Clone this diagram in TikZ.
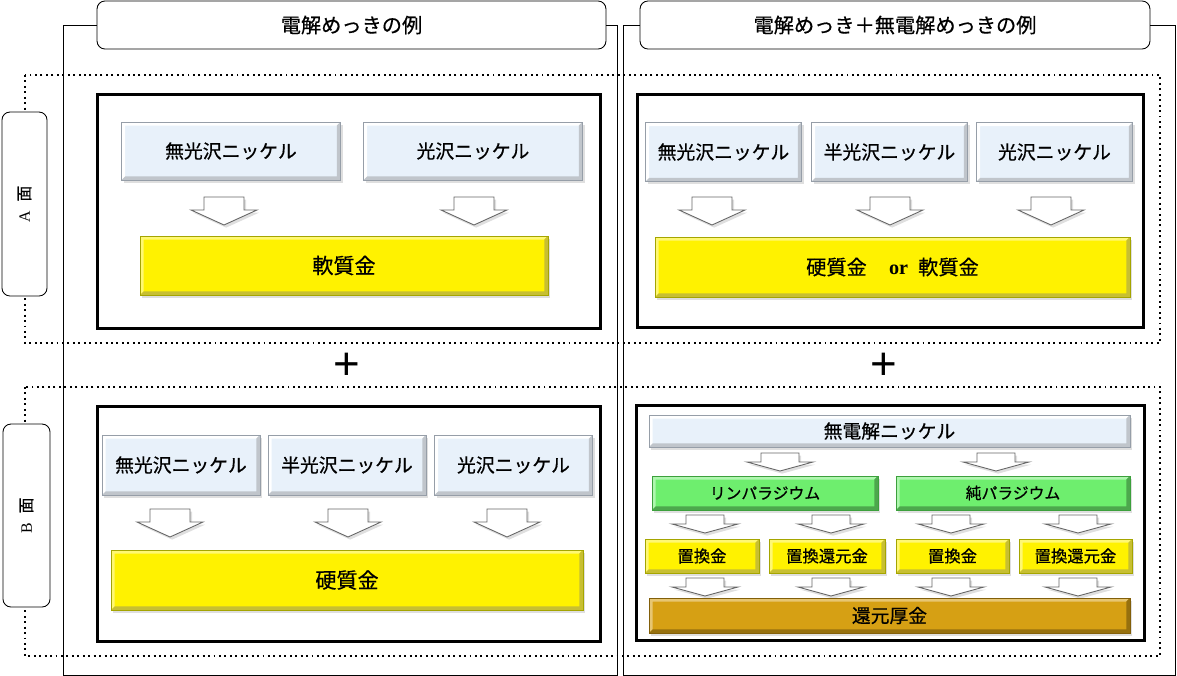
\documentclass[tikz,border=0pt]{standalone}
\usepackage{fontspec}
\setmainfont{Liberation Serif}
\setsansfont{Liberation Sans}
\newfontfamily\jp{Noto Sans CJK JP}[FakeBold=0.6]
\usepackage{xcolor}
\usetikzlibrary{shadows, positioning, calc}

\definecolor{nifill}{RGB}{232,241,250}
\definecolor{niedge}{RGB}{150,158,168}
\definecolor{auedge}{RGB}{165,165,0}
\definecolor{pdfill}{RGB}{110,238,110}
\definecolor{pdedge}{RGB}{60,160,60}
\definecolor{thfill}{RGB}{214,160,20}
\definecolor{thedge}{RGB}{130,95,10}

\begin{document}
\begin{tikzpicture}[
    x=0.02cm, y=-0.02cm,
    head/.style={draw, rounded corners=4.5pt, fill=white, line width=0.5pt,
                 minimum width=10.18cm, minimum height=0.96cm,
                 font=\jp\fontsize{11.5}{14}\selectfont},
    side/.style={draw, rounded corners=4.5pt, fill=white, line width=0.5pt,
                 rotate=90, minimum width=3.68cm, minimum height=0.9cm,
                 font=\jp\fontsize{9}{11}\selectfont},
    frame/.style={draw, line width=0.5pt},
    zone/.style={draw, line width=1.1pt, dotted},
    panel/.style={draw, line width=1.7pt, inner sep=0pt},
    plus/.style={font=\sffamily\fontsize{26}{26}\selectfont, inner sep=0pt},
    bevel/.style 2 args={path picture={
        \coordinate (bnw) at ([shift={(2pt,-2pt)}]path picture bounding box.north west);
        \coordinate (bse) at ([shift={(-2pt,2pt)}]path picture bounding box.south east);
        \fill[#1] (path picture bounding box.north west) -- (path picture bounding box.north east)
            -- (bse |- bnw) -- (bnw) -- (bnw |- bse) -- (path picture bounding box.south west) -- cycle;
        \fill[#2] (path picture bounding box.south east) -- (path picture bounding box.north east)
            -- (bse |- bnw) -- (bse) -- (bnw |- bse) -- (path picture bounding box.south west) -- cycle;
    }},
    shade/.style={drop shadow={shadow xshift=1.2pt, shadow yshift=-1.5pt, opacity=0.25}},
    nickel/.style={draw=niedge, fill=nifill, bevel={white}{niedge!60}, shade,
                   inner sep=0pt, font=\jp\fontsize{10.7}{13}\selectfont},
    gold/.style={draw=auedge, fill=yellow, bevel={yellow!55!white}{yellow!75!black}, shade,
                 inner sep=0pt, font=\jp\fontsize{12}{14}\selectfont},
    pd/.style={draw=pdedge, fill=pdfill, bevel={pdfill!55!white}{pdfill!70!black}, shade,
               inner sep=0pt, font=\jp\fontsize{9}{11}\selectfont},
    thick/.style={draw=thedge, fill=thfill, bevel={thfill!60!white}{thfill!70!black}, shade,
                  inner sep=0pt, font=\jp\fontsize{10.7}{13}\selectfont},
    arr/.style={draw=gray!80!black, fill=white, line width=0.5pt, shade},
    bigarr/.pic={\path[arr] (-20,0) -- (20,0) -- (20,13) -- (33,13) -- (0,28)
                 -- (-33,13) -- (-20,13) -- cycle;},
    smallarr/.pic={\path[arr] (-19,0) -- (19,0) -- (19,9) -- (33,9) -- (0,18)
                   -- (-33,9) -- (-19,9) -- cycle;},
]
    \useasboundingbox (0,0) rectangle (1177,676);

    % Column headers and frames
    \node[head] (lhead) at (351.5,25) {電解めっきの例};
    \node[head, minimum width=10.2cm] (rhead) at (895,25) {電解めっき＋無電解めっきの例};
    \draw[frame] (lhead.west) -| (63,675) -| (617,25) -- (lhead.east);
    \draw[frame] (rhead.west) -| (623,675) -| (1175,25) -- (rhead.east);

    % Side zones
    \draw[zone] (25,75) rectangle (1160,343);
    \draw[zone] (25,387) rectangle (1160,656);
    \node[side] (sidea) at (24.5,204) {\textrm{A}\hspace{0.6em}面};
    \node[side, minimum width=3.66cm, minimum height=0.94cm] (sideb) at (26.5,515.5) {\textrm{B}\hspace{0.6em}面};

    % Plus signs
    \node[plus] (plusl) at (347,366) {+};
    \node[plus] (plusr) at (884,366) {+};

    % Panels
    \node[panel, minimum width=10.08cm, minimum height=4.7cm] (pal) at (349,211.5) {};
    \node[panel, minimum width=10.14cm, minimum height=4.68cm] (par) at (890.5,211) {};
    \node[panel, minimum width=10.08cm, minimum height=4.72cm] (pbl) at (349,524) {};
    \node[panel, minimum width=10.18cm, minimum height=4.72cm] (pbr) at (890.5,523) {};

    % A side, electrolytic
    \node[nickel, minimum width=4.38cm, minimum height=1.16cm] (al1) at (231,151) {無光沢ニッケル};
    \node[nickel, minimum width=4.38cm, minimum height=1.16cm] (al2) at (473,151) {光沢ニッケル};
    \pic at (224,197) {bigarr};
    \pic at (474,197) {bigarr};
    \node[gold, minimum width=8.16cm, minimum height=1.18cm] (alau) at (344,265.5) {軟質金};

    % A side, electrolytic + electroless
    \node[nickel, minimum width=3.12cm, minimum height=1.18cm] (ar1) at (723.5,152) {無光沢ニッケル};
    \node[nickel, minimum width=3.12cm, minimum height=1.18cm] (ar2) at (889.5,152) {半光沢ニッケル};
    \node[nickel, minimum width=3.12cm, minimum height=1.18cm] (ar3) at (1054.5,152) {光沢ニッケル};
    \pic at (712,197) {bigarr};
    \pic at (890,197) {bigarr};
    \pic at (1051,197) {bigarr};
    \node[gold, minimum width=9.5cm, minimum height=1.2cm, font=\jp\fontsize{11.5}{14}\selectfont]
        (arau) at (892.5,267) {硬質金\hspace{1.1em}\textrm{\bfseries or}\hspace{0.5em}軟質金};

    % B side, electrolytic
    \node[nickel, minimum width=3.16cm, minimum height=1.2cm] (bl1) at (181,465) {無光沢ニッケル};
    \node[nickel, minimum width=3.16cm, minimum height=1.2cm] (bl2) at (347,465) {半光沢ニッケル};
    \node[nickel, minimum width=3.16cm, minimum height=1.2cm] (bl3) at (513.5,465) {光沢ニッケル};
    \pic at (170,509) {bigarr};
    \pic at (348,509) {bigarr};
    \pic at (507,509) {bigarr};
    \node[gold, minimum width=9.44cm, minimum height=1.2cm] (blau) at (347,580) {硬質金};

    % B side, electrolytic + electroless
    \node[nickel, minimum width=9.62cm, minimum height=0.64cm] (eni) at (889.5,431) {無電解ニッケル};
    \pic at (780,453) {smallarr};
    \pic at (996,453) {smallarr};
    \node[pd, minimum width=4.52cm, minimum height=0.68cm] (ppd) at (765,493) {リンパラジウム};
    \node[pd, minimum width=4.68cm, minimum height=0.68cm] (upd) at (1013,493) {純パラジウム};
    \foreach \x in {705,831,951,1078} {
        \pic at (\x,515) {smallarr};
        \pic at (\x,578) {smallarr};
    }
    \node[gold, minimum width=2.28cm, minimum height=0.68cm, font=\jp\fontsize{9.3}{11}\selectfont] (im1) at (702,556) {置換金};
    \node[gold, minimum width=2.32cm, minimum height=0.68cm, font=\jp\fontsize{9.3}{11}\selectfont] (ir1) at (827,556) {置換還元金};
    \node[gold, minimum width=2.26cm, minimum height=0.68cm, font=\jp\fontsize{9.3}{11}\selectfont] (im2) at (952.5,556) {置換金};
    \node[gold, minimum width=2.26cm, minimum height=0.68cm, font=\jp\fontsize{9.3}{11}\selectfont] (ir2) at (1075.5,556) {置換還元金};
    \node[thick, minimum width=9.62cm, minimum height=0.7cm] (thau) at (889.5,615.5) {還元厚金};
\end{tikzpicture}
\end{document}
